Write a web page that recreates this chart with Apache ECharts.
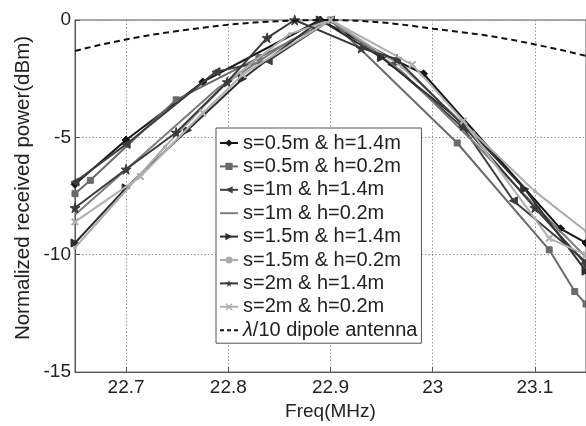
<!DOCTYPE html>
<html><head><meta charset="utf-8">
<script src="https://cdn.jsdelivr.net/npm/echarts@6/dist/echarts.min.js"></script>
<style>html,body{margin:0;padding:0;background:#fff}#c{width:586px;height:426px}</style>
</head><body><div id="c"></div>
<script>
// ---- data ----
const names = ["s=0.5m & h=1.4m","s=0.5m & h=0.2m","s=1m & h=1.4m","s=1m & h=0.2m","s=1.5m & h=1.4m","s=1.5m & h=0.2m","s=2m & h=1.4m","s=2m & h=0.2m","λ/10 dipole antenna"];
const xTicks = [22.7, 22.8, 22.9, 23, 23.1];
const yTicks = [-15, -10, -5, 0];

const f1 = [22.65,22.7,22.775,22.89,22.965,22.991,23.125,23.15];
const p1 = [-7.0,-5.11,-2.64,0,-1.75,-2.29,-8.89,-9.5];
const f2 = [22.65,22.665,22.749,22.83,22.9,23.024,23.114,23.139,23.15];
const p2 = [-7.4,-6.83,-3.4,-1.6,0,-5.24,-9.79,-11.57,-12.1];
const f3 = [22.65,22.7,22.788,22.839,22.9,22.96,23.03,23.079,23.15];
const p3 = [-6.9,-5.3,-2.2,-1.74,0,-1.9,-4.6,-7.7,-10.3];
const f4 = [22.65,22.72,22.79,22.86,22.9,22.97,23.04,23.1,23.15];
const p4 = [-8.3,-5.6,-2.9,-0.9,0,-2.2,-5.2,-7.9,-10.1];
const f5 = [22.65,22.7,22.76,22.814,22.89,22.95,23.03,23.09,23.15];
const p5 = [-9.5,-7.15,-4.7,-2.5,0,-1.6,-4.4,-7.2,-10.7];
const f6 = [22.65,22.738,22.8,22.86,22.9,22.97,23.04,23.1,23.15];
const p6 = [-9.7,-5.4,-2.6,-0.6,0,-2.0,-4.8,-7.3,-9.0];
const f7 = [22.65,22.7,22.749,22.799,22.838,22.865,22.93,22.965,23.03,23.1,23.15];
const p7 = [-8.0,-6.36,-4.79,-2.64,-0.76,0,-1.2,-1.67,-4.5,-8.0,-10.4];
const f8 = [22.65,22.714,22.775,22.814,22.9,22.98,23.03,23.114,23.15];
const p8 = [-8.6,-6.67,-3.96,-2.33,0,-1.9,-4.3,-9.3,-10.0];
const fd = [22.65,22.675,22.7,22.725,22.75,22.775,22.8,22.825,22.85,22.875,22.9,22.925,22.95,22.975,23.0,23.025,23.05,23.075,23.1,23.125,23.15];
const pd = [-1.32,-1.05,-0.83,-0.63,-0.47,-0.33,-0.2,-0.11,-0.05,-0.01,0,-0.03,-0.1,-0.22,-0.37,-0.5,-0.64,-0.82,-1.04,-1.27,-1.53];

// ---- styling ----
const STAR = 'path://M50,0 L61,35 L98,35 L68,57 L79,91 L50,70 L21,91 L32,57 L2,35 L39,35 Z';
const XMARK = 'path://M0,15 L15,0 L50,35 L85,0 L100,15 L65,50 L100,85 L85,100 L50,65 L15,100 L0,85 L35,50 Z';
const zip = (a, b) => a.map((v, i) => [v, b[i]]);
const freqs = [f1,f2,f3,f4,f5,f6,f7,f8,fd];
const pows = [p1,p2,p3,p4,p5,p6,p7,p8,pd];
const styles = [
  {c:'#151515', sym:'diamond', size:8, rot:0},
  {c:'#6a6a6a', sym:'rect', size:6, rot:0},
  {c:'#3e3e3e', sym:'triangle', size:8, rot:90},
  {c:'#7c7c7c', sym:'none', size:0, rot:0},
  {c:'#2e2e2e', sym:'triangle', size:8, rot:-90},
  {c:'#ababab', sym:'circle', size:3, rot:0},
  {c:'#3a3a3a', sym:STAR, size:10, rot:0},
  {c:'#b0b0b0', sym:XMARK, size:7, rot:0},
  {c:'#111111', sym:'none', size:0, rot:0, dash:true}
];
const DASH = [6, 4];

const series = names.map((n, i) => {
  const s = styles[i];
  return {
    name: n, type: 'line', data: zip(freqs[i], pows[i]),
    symbol: s.sym, symbolSize: s.size, symbolRotate: s.rot,
    showSymbol: s.sym !== 'none',
    lineStyle: {color: s.c, width: 2, type: s.dash ? DASH : 'solid'},
    itemStyle: {color: s.c, borderColor: s.c},
    animation: false, clip: true, z: 2 + i
  };
});

const legendData = names.map((n, i) => {
  const s = styles[i];
  const item = {name: n};
  if (s.sym === 'none') item.itemStyle = {color: 'rgba(0,0,0,0)', borderColor: 'rgba(0,0,0,0)', borderWidth: 0};
  if (s.dash) item.lineStyle = {type: [4, 3], width: 2, color: s.c};
  return item;
});

const chart = echarts.init(document.getElementById('c'), null, {renderer: 'canvas'});
chart.setOption({
  animation: false,
  backgroundColor: '#fff',
  grid: {left: 75, right: -2, top: 20, bottom: 46, show: true, borderColor: '#555', borderWidth: 1},
  xAxis: {
    type: 'value', min: 22.65, max: 23.15,
    name: 'Freq(MHz)', nameLocation: 'middle', nameGap: 28,
    nameTextStyle: {fontFamily: 'Liberation Sans', fontSize: 19, color: '#222'},
    axisLine: {show: true, onZero: false, lineStyle: {color: '#555'}},
    axisTick: {show: true, inside: true, length: 5, customValues: xTicks, lineStyle: {color: '#555'}},
    axisLabel: {customValues: xTicks, margin: 6, fontFamily: 'Liberation Sans', fontSize: 19, color: '#222'},
    splitLine: {show: true, lineStyle: {color: '#999', type: [1.5, 2], width: 1}}
  },
  yAxis: {
    type: 'value', min: -15, max: 0, interval: 5,
    axisLine: {show: true, onZero: false, lineStyle: {color: '#555'}},
    axisTick: {show: true, inside: true, length: 5, lineStyle: {color: '#555'}},
    axisLabel: {margin: 4, fontFamily: 'Liberation Sans', fontSize: 19, color: '#222'},
    splitLine: {show: true, lineStyle: {color: '#999', type: [1.5, 2], width: 1}}
  },
  legend: {
    orient: 'vertical', left: 216, top: 128,
    data: legendData,
    backgroundColor: '#fff', borderColor: '#555', borderWidth: 1,
    padding: [5, 4, 3, 3],
    itemWidth: 18, itemHeight: 9, itemGap: 3.4,
    textStyle: {fontFamily: 'Liberation Sans', fontSize: 20, color: '#222', lineHeight: 20,
      rich: {i: {fontFamily: 'Liberation Sans', fontStyle: 'italic', fontSize: 20, color: '#222'}}},
    formatter: n => n.startsWith('λ') ? '{i|λ}' + n.slice(1) : n,
    selectedMode: false
  },
  graphic: [{
    type: 'text', x: 23, y: 188, rotation: Math.PI / 2,
    style: {text: 'Normalized received power(dBm)', fontFamily: 'Liberation Sans', fontSize: 20.5,
      fill: '#222', align: 'center', verticalAlign: 'middle'}
  }],
  series: series
});
</script></body></html>
